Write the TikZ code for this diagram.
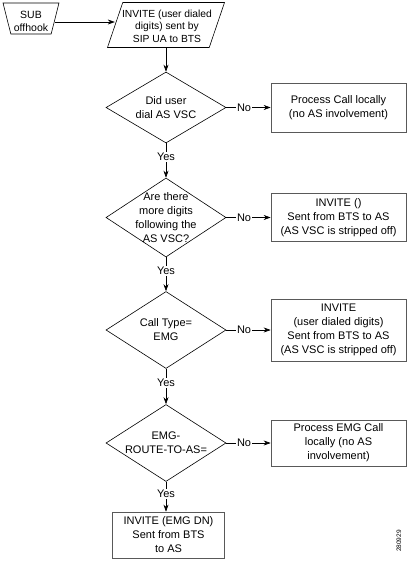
\documentclass[tikz,border=0pt]{standalone}
\usepackage{fontspec}
\setmainfont{Liberation Sans}
\usetikzlibrary{arrows.meta,shapes.geometric,calc}

\begin{document}
\begin{tikzpicture}[x=1pt,y=-1pt,
    every node/.style={font=\fontsize{11}{14}\selectfont, align=center},
    arr/.style={-{Stealth[length=7pt,width=5pt]}, line width=0.6pt},
    decision/.style={diamond, draw, line width=0.6pt, inner sep=0pt, minimum width=120pt, minimum height=#1},
    procbox/.style={rectangle, draw=black!65, line width=0.7pt, minimum width=135pt, minimum height=#1, inner sep=1pt},
    tag/.style={fill=white, inner sep=1pt, pos=0.4}]
    \useasboundingbox (0,0) rectangle (410,562);

    \node[trapezium, draw, line width=0.6pt, trapezium stretches=true, shape border rotate=180,
      trapezium angle=79, minimum width=56pt, minimum height=31pt] (sub) at (31,18.5) {};
    \node[font=\fontsize{10.5}{13}\selectfont] (subtext) at (31,21.5) {SUB\\offhook};
    \node[trapezium, draw, line width=0.6pt, trapezium stretches=true, trapezium left angle=80,
      trapezium right angle=100, minimum width=117pt, minimum height=45pt] (inv) at (166,25) {};
    \node[font=\fontsize{10.3}{12.5}\selectfont] (invtext) at (167,26) {INVITE (user dialed\\digits) sent by\\SIP UA to BTS};

    \node[decision=71pt] (d1) at (166,107.5) {};
    \node (d1text) at (d1) {Did user\\dial AS VSC};
    \node[decision=79pt] (d2) at (166,217.5) {};
    \node (d2text) at (d2) {Are there\\more digits\\following the\\AS VSC?};
    \node[decision=77pt] (d3) at (166,330) {};
    \node (d3text) at (d3) {Call Type=\\EMG};
    \node[decision=77pt] (d4) at (166,443) {};
    \node (d4text) at (d4) {EMG-\\ROUTE-TO-AS=};

    \node[procbox=49pt] (b1) at (338.5,107.5) {Process Call locally\\(no AS involvement)};
    \node[procbox=48pt] (b2) at (338.5,217.5) {INVITE ()\\Sent from BTS to AS\\(AS VSC is stripped off)};
    \node[procbox=62pt] (b3) at (338.5,330) {INVITE\\(user dialed digits)\\Sent from BTS to AS\\(AS VSC is stripped off)};
    \node[procbox=46pt] (b4) at (338.5,443) {Process EMG Call\\locally (no AS\\involvement)};
    \node[procbox=46pt, minimum width=112pt] (b5) at (168.5,535) {INVITE (EMG DN)\\Sent from BTS\\to AS};

    \node[rotate=90, font=\fontsize{6.5}{7}\selectfont] (figno) at (399,541) {280929};

    \draw[arr] (sub.east |- 0,22) -- (inv.west |- 0,22);
    \draw[arr] (inv.south) -- (d1.north);
    \foreach \i in {1,...,4} {
      \draw[arr] (d\i.east) -- node[tag] {No} (d\i.east -| b\i.west);
    }
    \foreach \a/\b in {d1/d2, d2/d3, d3/d4, d4/b5} {
      \draw[arr] (\a.south) -- node[tag] {Yes} (\a.south |- \b.north);
    }

  \end{tikzpicture}
\end{document}
